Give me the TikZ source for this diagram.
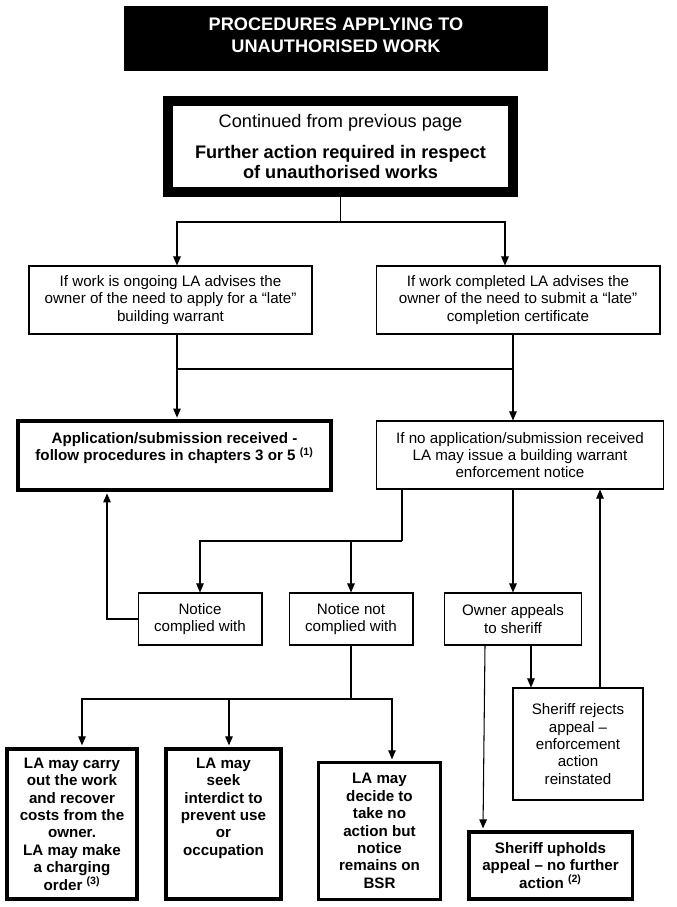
\documentclass[tikz,border=0pt]{standalone}
\usepackage{fontspec}
\setmainfont{Liberation Sans}
\usetikzlibrary{arrows.meta}

\tikzset{
	plain/.style={draw, line width=0.7pt, align=center, inner sep=2pt, font=\fontsize{10}{11.5}\selectfont},
	heavy/.style={draw, line width=2.3pt, align=center, inner sep=2pt, font=\fontsize{10}{11.5}\selectfont\bfseries},
	conn/.style={line width=0.7pt},
	arr/.style={line width=0.7pt, -{Triangle[width=5pt,length=6pt]}},
	arrh/.style={arr, shorten >=1.1pt},
}

\begin{document}
\begin{tikzpicture}[x=0.66pt, y=-0.66pt]
			%%%%% START %%%%%
			\useasboundingbox (0,0) rectangle (677,907);
			
			\node[fill=black, text=white, font=\fontsize{12}{14.5}\selectfont\bfseries, align=center, text depth=4pt, minimum width=279.8pt, minimum height=42.9pt] (title) at (336,38.5) {PROCEDURES APPLYING TO\\UNAUTHORISED WORK};
			
			\node[draw, line width=6.6pt, align=center, minimum width=227.7pt, minimum height=60.1pt, font=\fontsize{12}{13.2}\selectfont] (cont) at (340.5,146.5) {Continued from previous page\\[7pt]\textbf{Further action required in respect}\\\textbf{of unauthorised works}};
			
			\node[plain, minimum width=186.8pt, minimum height=44.9pt] (A) at (170.5,300) {If work is ongoing LA advises the\\owner of the need to apply for a “late”\\building warrant};
			\node[plain, minimum width=187.4pt, minimum height=44.9pt] (B) at (518,300) {If work completed LA advises the\\owner of the need to submit a “late”\\completion certificate};
			
			\node[heavy, minimum width=206.6pt, minimum height=45.5pt] (app) at (174.5,455.5) {Application/submission received -\\follow procedures in chapters 3 or 5 \textsuperscript{(1)}\\\mbox{}};
			\node[plain, minimum width=190pt, minimum height=44.9pt] (B2) at (520,455) {If no application/submission received\\LA may issue a building warrant\\enforcement notice};
			
			\node[plain, minimum width=81.8pt, minimum height=34.3pt] (nc) at (200,619) {Notice\\complied with};
			\node[plain, minimum width=81.8pt, minimum height=34.3pt] (nn) at (351,619) {Notice not\\complied with};
			\node[plain, minimum width=90.4pt, minimum height=34.3pt] (oa) at (513,619) {Owner appeals\\to sheriff};
			\node[plain, minimum width=85.8pt, minimum height=73.9pt] (sr) at (578,744) {Sheriff rejects\\appeal –\\enforcement\\action\\reinstated};
			
			\node[heavy, minimum width=86.1pt, minimum height=99.3pt] (C1) at (72,824) {LA may carry\\out the work\\and recover\\costs from the\\owner.\\LA may make\\a charging\\order \textsuperscript{(3)}};
			\node[heavy, minimum width=76.2pt, minimum height=99.3pt] (C2) at (223.5,824) {LA may\\seek\\interdict to\\prevent use\\or\\occupation\\\mbox{}\\\mbox{}};
			\node[heavy, minimum width=80.2pt, minimum height=90.1pt] (C3) at (379.5,831) {LA may\\decide to\\take no\\action but\\notice\\remains on\\BSR};
			\node[heavy, minimum width=107.9pt, minimum height=44.5pt] (up) at (550.5,865.5) {Sheriff upholds\\appeal – no further\\action \textsuperscript{(2)}};
			
			% junctions
			\coordinate (j1) at (340.5,222);
			\coordinate (j2) at (177,369);
			\coordinate (j3) at (513,369);
			\coordinate (j4) at (402,541);
			\coordinate (j5) at (351,699);
			
			\draw[conn] (cont.south) -- (j1);
			\draw[arr] (j1) -| (A.north -| 177,0);
			\draw[arr] (j1) -| (B.north -| 505,0);
			
			\draw[arrh] (A.south -| j2) -- (app.north -| j2);
			\draw[arr] (B.south -| j3) -- (B2.north -| j3);
			\draw[conn] (j2) -- (j3);
			
			\draw[conn] (B2.south -| j4) -- (j4);
			\draw[arr] (j4) -| (nc.north);
			\draw[arr] (nn.north |- j4) -- (nn.north);
			\draw[arr] (B2.south -| oa.north) -- (oa.north);
			
			\draw[arrh] (nc.west) -| (app.south -| 107,0);
			
			\draw[conn] (nn.south) -- (j5);
			\draw[arrh] (j5) -| (C1.north -| 82,0);
			\draw[arrh] (j5) -| (C2.north -| 229,0);
			\draw[arrh] (j5) -| (C3.north -| 392,0);
			
			\draw[arrh] (oa.south -| 485,0) -- (up.north -| 483,0);
			\draw[arr] (oa.south -| 531,0) -- (sr.north -| 531,0);
			\draw[arr] (sr.north -| 600,0) -- (B2.south -| 600,0);
			%%%%% END %%%%%
\end{tikzpicture}
\end{document}
